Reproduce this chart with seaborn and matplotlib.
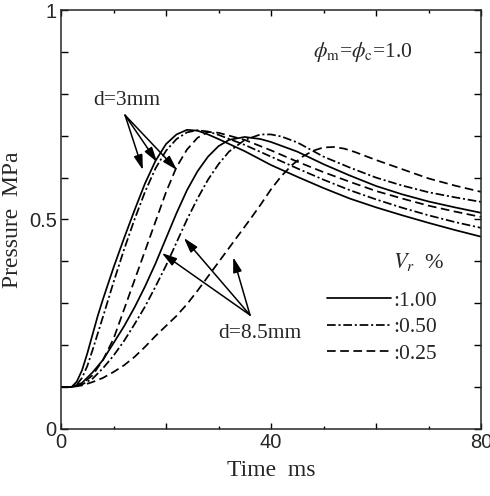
import matplotlib
matplotlib.use("Agg")
import numpy as np
import pandas as pd
import matplotlib.pyplot as plt
from matplotlib.lines import Line2D
from matplotlib.ticker import MultipleLocator, FuncFormatter
import seaborn as sns

# Pressure histories (time in ms, pressure in MPa)
t_3_100 = [0, 2, 3, 4, 5, 6, 7, 8, 10, 12, 14, 16, 18, 20, 22, 24, 26, 28, 30,
           35, 40, 45, 50, 55, 60, 65, 70, 75, 80]
p_3_100 = [0.100, 0.100, 0.113, 0.140, 0.180, 0.225, 0.270, 0.310, 0.385, 0.455,
           0.522, 0.586, 0.640, 0.680, 0.703, 0.714, 0.712, 0.703, 0.692,
           0.663, 0.630, 0.602, 0.575, 0.550, 0.529, 0.510, 0.492, 0.475, 0.459]

t_3_050 = [0, 2, 3, 4, 5, 6, 7, 8, 10, 12, 14, 16, 18, 20, 22, 24, 26, 28, 30,
           35, 40, 45, 50, 55, 60, 65, 70, 75, 80]
p_3_050 = [0.100, 0.100, 0.106, 0.122, 0.150, 0.188, 0.228, 0.268, 0.350, 0.428,
           0.500, 0.566, 0.622, 0.664, 0.692, 0.708, 0.713, 0.710, 0.702,
           0.678, 0.650, 0.622, 0.595, 0.570, 0.548, 0.528, 0.510, 0.494, 0.480]

t_3_025 = [0, 2, 4, 6, 8, 10, 12, 14, 16, 18, 20, 22, 24, 26, 28, 30,
           35, 40, 45, 50, 55, 60, 65, 70, 75, 80]
p_3_025 = [0.100, 0.100, 0.108, 0.128, 0.165, 0.215, 0.285, 0.355, 0.425, 0.495,
           0.565, 0.625, 0.667, 0.695, 0.709, 0.707,
           0.690, 0.665, 0.638, 0.613, 0.590, 0.568, 0.550, 0.533, 0.519, 0.506]

t_85_100 = [0, 2, 4, 6, 8, 10, 12, 14, 16, 18, 20, 22, 24, 26, 28, 30, 32, 35,
            38, 40, 45, 50, 55, 60, 65, 70, 75, 80]
p_85_100 = [0.100, 0.100, 0.110, 0.135, 0.165, 0.205, 0.245, 0.290, 0.340, 0.395,
            0.455, 0.515, 0.570, 0.615, 0.650, 0.675, 0.690, 0.697,
            0.692, 0.685, 0.662, 0.632, 0.605, 0.580, 0.560, 0.543, 0.529, 0.516]

t_85_050 = [0, 2, 4, 6, 8, 10, 12, 14, 16, 18, 20, 22, 24, 26, 28, 30, 32, 35,
            38, 40, 42, 45, 50, 55, 60, 65, 70, 75, 80]
p_85_050 = [0.100, 0.100, 0.106, 0.120, 0.145, 0.175, 0.210, 0.250, 0.292, 0.340,
            0.390, 0.445, 0.500, 0.550, 0.595, 0.632, 0.662, 0.690,
            0.703, 0.703, 0.698, 0.684, 0.650, 0.624, 0.600, 0.581, 0.565,
            0.553, 0.542]

t_85_025 = [0, 2, 4, 6, 8, 10, 12, 14, 16, 18, 20, 22, 24, 26, 28, 30, 32, 34,
            36, 38, 40, 42, 44, 46, 48, 50, 52, 54, 56, 60, 65, 70, 75, 80]
p_85_025 = [0.100, 0.100, 0.104, 0.112, 0.122, 0.136, 0.152, 0.172, 0.196, 0.222,
            0.246, 0.270, 0.298, 0.330, 0.364, 0.398, 0.432, 0.466,
            0.500, 0.535, 0.572, 0.604, 0.630, 0.650, 0.664, 0.672, 0.673,
            0.669, 0.661, 0.642, 0.620, 0.598, 0.581, 0.566]

vr_labels = [":1.00", ":0.50", ":0.25"]
vr_dashes = {":1.00": "", ":0.50": (5, 1.6, 1.2, 1.6), ":0.25": (5, 2.6)}

curves = [
    ("3", ":1.00", t_3_100, p_3_100),
    ("3", ":0.50", t_3_050, p_3_050),
    ("3", ":0.25", t_3_025, p_3_025),
    ("8.5", ":1.00", t_85_100, p_85_100),
    ("8.5", ":0.50", t_85_050, p_85_050),
    ("8.5", ":0.25", t_85_025, p_85_025),
]
df = pd.concat([pd.DataFrame({"time": t, "pressure": p, "d": d, "Vr": vr})
                for d, vr, t, p in curves], ignore_index=True)

# annotation anchors (data coords)
arrow_3mm_from = (12.2, 0.749)
arrow_3mm_to = [(15.6, 0.618), (18.3, 0.637), (22.1, 0.618)]
arrow_85_from = (36.0, 0.272)
arrow_85_to = [(19.2, 0.420), (23.4, 0.456), (32.8, 0.410)]

sns.set_style("ticks")
plt.rcParams["font.family"] = ["Liberation Serif", "DejaVu Serif"]
plt.rcParams["mathtext.fontset"] = "stix"

fig = plt.figure(figsize=(4.9, 4.96), dpi=100)
ax = fig.add_axes([61 / 490, 67 / 496, 420 / 490, 419 / 496])

lw = 1.25
sns.lineplot(data=df, x="time", y="pressure", style="Vr", units="d",
             estimator=None, color="black", linewidth=lw, dashes=vr_dashes,
             style_order=vr_labels, legend=False, ax=ax)

ax.set_xlim(0, 80)
ax.set_ylim(0, 1)
ax.xaxis.set_major_locator(MultipleLocator(20))
ax.xaxis.set_minor_locator(MultipleLocator(10))
ax.yaxis.set_major_locator(MultipleLocator(0.1))
ax.xaxis.set_major_formatter(FuncFormatter(
    lambda v, _: f"{v:g}" if round(v) % 40 == 0 else ""))
ax.yaxis.set_major_formatter(FuncFormatter(
    lambda v, _: f"{round(v, 1):g}" if round(v * 10) % 5 == 0 else ""))
ax.tick_params(which="both", direction="in", top=True, right=True,
               width=1.0, color="black", labelsize=14.5, pad=3,
               labelfontfamily="Liberation Sans")
ax.tick_params(axis="x", which="major", length=4.5)
ax.tick_params(axis="x", which="minor", length=2.3)
ax.tick_params(axis="y", which="major", length=5)
for s in ax.spines.values():
    s.set_linewidth(1.1)

ax.set_xlabel("Time  ms", fontsize=17, labelpad=6)
ax.set_ylabel("Pressure  MPa", fontsize=17, labelpad=4)

ax.text(48, 0.90, r"$\phi_{\rm m}$=$\phi_{\rm c}$=1.0", fontsize=15.5,
        ha="left", va="center")
ax.text(12.6, 0.785, "d=3mm", fontsize=15.5, ha="center", va="center")
ax.text(37.9, 0.227, "d=8.5mm", fontsize=15.5, ha="center", va="center")

arrow_kw = dict(arrowstyle="-|>,head_length=0.75,head_width=0.22",
                color="black", lw=1.1, mutation_scale=12,
                shrinkA=0, shrinkB=0)
for tip in arrow_3mm_to:
    ax.annotate("", xy=tip, xytext=arrow_3mm_from, arrowprops=arrow_kw)
for tip in arrow_85_to:
    ax.annotate("", xy=tip, xytext=arrow_85_from, arrowprops=arrow_kw)

ax.text(68.2, 0.399, r"$V_r$  %", fontsize=16, ha="center", va="center")
handles = [Line2D([], [], color="black", linewidth=lw,
                  dashes=vr_dashes[v] if vr_dashes[v] else (None, None))
           for v in vr_labels]
ax.legend(handles, vr_labels, loc="upper left", bbox_to_anchor=(0.633, 0.33),
          frameon=False, fontsize=15.5, handlelength=3.0, handletextpad=0.1,
          labelspacing=0.3, borderpad=0, borderaxespad=0)

fig.savefig("out.png", dpi=100)
